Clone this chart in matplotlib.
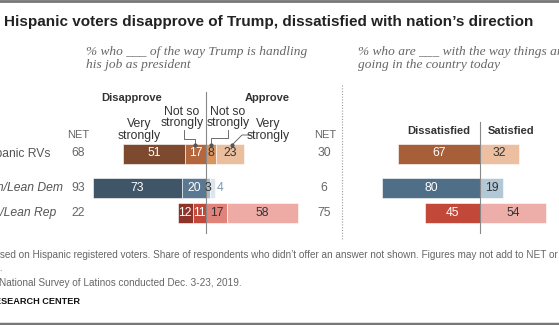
import matplotlib
matplotlib.use("Agg")
import matplotlib.pyplot as plt

# ---- data ----
groups = ["Hispanic RVs", "Dem/Lean Dem", "Rep/Lean Rep"]
dis_very = [51, 73, 12]
dis_notso = [17, 20, 11]
app_notso = [8, 3, 17]
app_very = [23, 4, 58]
net_dis = [68, 93, 22]
net_app = [30, 6, 75]
dissatisfied = [67, 80, 45]
satisfied = [32, 19, 54]

# ---- colours per group ----
c_dis_very = ["#7d4a2f", "#3f5669", "#8e3329"]
c_dis_notso = ["#b4673c", "#5a7891", "#c2483a"]
c_app_notso = ["#d9955f", "#a8bdcc", "#e0837a"]
c_app_very = ["#ebbf9e", "#dce5ec", "#eeaaa5"]
c_dissat = ["#a65f38", "#4f6f88", "#c2483a"]
c_sat = ["#ebbfa0", "#b3c8d7", "#edada8"]

W, H = 559, 325
SCALE = 1.22          # pixels per percentage point
rows_y = [153.5, 188, 213]
bar_h = 20

plt.rcParams['font.family'] = ['Liberation Sans', 'DejaVu Sans']

fig = plt.figure(figsize=(W / 100, H / 100), dpi=100)


def px(x, y):
    return x / W, 1 - y / H


def ftext(x, y, s, **kw):
    fig.text(*px(x, y), s, **kw)


def make_axes(center_x):
    ax = fig.add_axes([0, 0, 1, 1])
    ax.set_xlim(-center_x / SCALE, (W - center_x) / SCALE)
    ax.set_ylim(H, 0)
    ax.axis("off")
    ax.patch.set_alpha(0)
    return ax


ax1 = make_axes(206)
ax2 = make_axes(480)

dark = "#333333"


def label(ax, left, width, y, color):
    ax.text(left + width / 2, y, str(width), ha="center", va="center",
            fontsize=8.7, color=color)


# ---- chart 1: Trump approval ----
for i, y in enumerate(rows_y):
    segs = [(-(dis_notso[i] + dis_very[i]), dis_very[i], c_dis_very[i], "white"),
            (-dis_notso[i], dis_notso[i], c_dis_notso[i], "white"),
            (0, app_notso[i], c_app_notso[i], dark),
            (app_notso[i], app_very[i], c_app_very[i], dark)]
    for left, width, col, tcol in segs:
        ax1.barh(y, width, left=left, height=bar_h, color=col,
                 edgecolor="white", linewidth=0.4)
        if width >= 5 or (width >= 3 and left == 0):
            label(ax1, left, width, y, tcol)
    if app_very[i] < 5:
        ax1.text(app_notso[i] + app_very[i] + 2, y, str(app_very[i]),
                 ha="left", va="center", fontsize=8.7, color="#7c9cb5")

ax1.plot([0, 0], [92, 233], color="#888888", lw=0.8)

# ---- chart 2: satisfaction ----
for i, y in enumerate(rows_y):
    ax2.barh(y, dissatisfied[i], left=-dissatisfied[i], height=bar_h,
             color=c_dissat[i], edgecolor="white", linewidth=0.4)
    ax2.barh(y, satisfied[i], left=0, height=bar_h,
             color=c_sat[i], edgecolor="white", linewidth=0.4)
    label(ax2, -dissatisfied[i], dissatisfied[i], y, "white")
    label(ax2, 0, satisfied[i], y, dark)

ax2.plot([0, 0], [122, 233], color="#888888", lw=0.8)

# dotted separator
ax1.plot([(342 - 206) / SCALE] * 2, [85, 240], color="#999999", lw=0.8,
         linestyle=(0, (1, 1.5)))

# ---- row labels and NET columns ----
gray = "#666666"
for i, y in enumerate(rows_y):
    style = "normal" if i == 0 else "italic"
    ftext(-21.5, y, groups[i], ha="left", va="center", fontsize=8.7,
          color="#555555", style=style)
    ftext(78, y, str(net_dis[i]), ha="center", va="center", fontsize=8.7,
          color=gray)
    ftext(324, y, str(net_app[i]), ha="center", va="center", fontsize=8.7,
          color=gray)
ftext(78, 135, "NET", ha="center", va="center", fontsize=8, color=gray)
ftext(325, 135, "NET", ha="center", va="center", fontsize=8, color=gray)

# ---- headers and annotations ----
ftext(4, 22, "Hispanic voters disapprove of Trump, dissatisfied with nation\u2019s direction",
      ha="left", va="center", fontsize=11, fontweight="bold", color="#222222")

sub = dict(ha="left", va="center", fontsize=9.6, style="italic", color="#666666",
           family=["Liberation Serif", "DejaVu Serif"], linespacing=1.05)
ftext(86, 58.5, "% who ___ of the way Trump is handling\nhis job as president", **sub)
ftext(358, 58.5, "% who are ___ with the way things are\ngoing in the country today", **sub)

ftext(132, 98, "Disapprove", ha="center", va="center", fontsize=8,
      fontweight="bold", color=dark)
ftext(267, 98, "Approve", ha="center", va="center", fontsize=8,
      fontweight="bold", color=dark)

ann = dict(ha="center", va="center", fontsize=8.8, color=dark, linespacing=0.95)
ftext(139, 130, "Very\nstrongly", **ann)
ftext(182, 117.5, "Not so\nstrongly", **ann)
ftext(228, 117.5, "Not so\nstrongly", **ann)
ftext(268, 130, "Very\nstrongly", **ann)

lc = "#555555"
fig.add_artist(plt.Line2D(*zip(px(184, 130), px(184, 139), px(195, 139), px(195, 145)),
                          color=lc, lw=0.6))
fig.add_artist(plt.Line2D(*zip(px(228, 130), px(228, 138), px(211, 138), px(211, 145)),
                          color=lc, lw=0.6))
fig.add_artist(plt.Line2D(*zip(px(251, 135), px(242, 135), px(232, 145)),
                          color=lc, lw=0.6))
for x, y in [(195, 145), (211, 145), (232, 145)]:
    fig.add_artist(plt.Line2D([px(x, y)[0]], [px(x, y)[1]], marker="o",
                              markersize=2, color=lc))

ftext(470, 131, "Dissatisfied", ha="right", va="center", fontsize=8,
      fontweight="bold", color=dark)
ftext(488, 131, "Satisfied", ha="left", va="center", fontsize=8,
      fontweight="bold", color=dark)

# ---- footnotes ----
foot = dict(ha="left", va="center", fontsize=7.2, color="#666666")
ftext(-39, 255, "Note: Based on Hispanic registered voters. Share of respondents who didn\u2019t "
      "offer an answer not shown. Figures may not add to NET or 100% due to", **foot)
ftext(-39, 268, "rounding.", **foot)
ftext(-38, 283, "Source: National Survey of Latinos conducted Dec. 3-23, 2019.", **foot)
ftext(-35, 302, "PEW RESEARCH CENTER", ha="left", va="center", fontsize=6.6,
      fontweight="bold", color="#111111")

# top and bottom rules
fig.add_artist(plt.Line2D([0, 1], [1 - 1 / H, 1 - 1 / H], color="#777777", lw=2))
fig.add_artist(plt.Line2D([0, 1], [1.5 / H, 1.5 / H], color="#777777", lw=2.5))

fig.savefig("out.png", dpi=100)
